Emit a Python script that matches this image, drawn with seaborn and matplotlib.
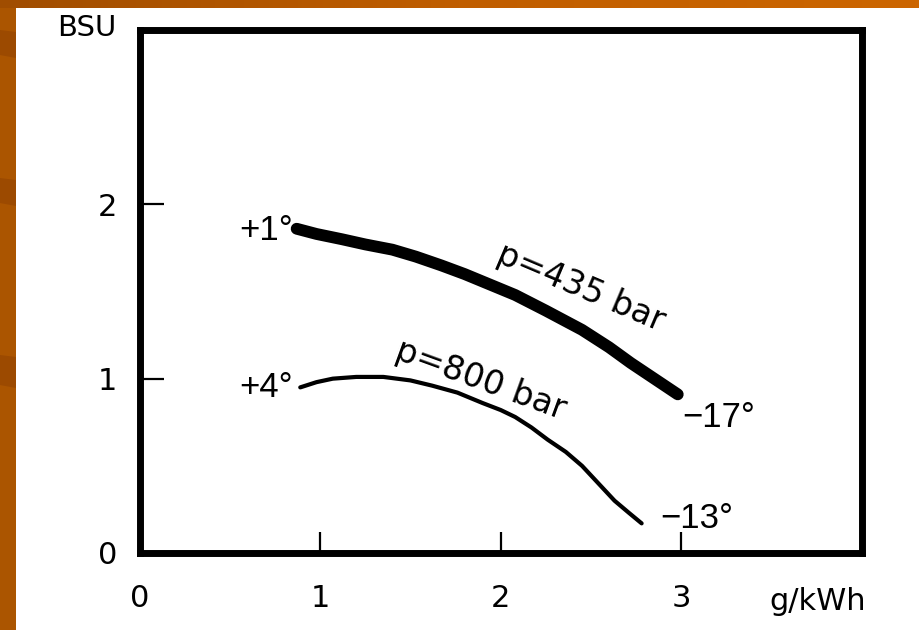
import numpy as np
import pandas as pd
import matplotlib
matplotlib.use("Agg")
import matplotlib.pyplot as plt
from matplotlib.patches import Rectangle, Polygon
from matplotlib.colors import LinearSegmentedColormap
import seaborn as sns

# BSU versus g/kWh for two injection pressures
x_435 = [0.87, 0.98, 1.12, 1.25, 1.40, 1.53, 1.67, 1.80, 1.94, 2.08, 2.25, 2.45, 2.60, 2.72, 2.85, 2.98]
y_435 = [1.86, 1.83, 1.80, 1.77, 1.74, 1.70, 1.65, 1.60, 1.54, 1.48, 1.39, 1.28, 1.18, 1.09, 1.00, 0.91]

x_800 = [0.89, 0.98, 1.07, 1.20, 1.35, 1.50, 1.62, 1.76, 1.90, 2.00, 2.08, 2.17, 2.26, 2.36, 2.45, 2.54, 2.63, 2.71, 2.78]
y_800 = [0.95, 0.98, 1.00, 1.01, 1.01, 0.99, 0.96, 0.92, 0.86, 0.82, 0.78, 0.72, 0.65, 0.58, 0.50, 0.40, 0.30, 0.23, 0.17]

x_ticks = [0, 1, 2, 3]
y_ticks = [0, 1, 2]
x_unit = "g/kWh"
y_unit = "BSU"

curve_labels = ["p=435 bar", "p=800 bar"]
start_labels = ["+1°", "+4°"]
end_labels = ["−17°", "−13°"]

df = pd.concat([
    pd.DataFrame({"x": x_435, "y": y_435, "p": curve_labels[0]}),
    pd.DataFrame({"x": x_800, "y": y_800, "p": curve_labels[1]}),
])

sns.set_theme(style="white")
plt.rcParams["font.family"] = ["DejaVu Sans"]
plt.rcParams["text.color"] = "black"
narrow = ["Liberation Sans", "DejaVu Sans"]

W, H, DPI = 919, 630, 100
fig = plt.figure(figsize=(W / DPI, H / DPI), dpi=DPI, facecolor="white")

# slide frame: gradient strip on top, brown strip on the left
band = fig.add_axes([0, 1 - 8 / H, 1, 8 / H])
grad = np.linspace(0, 1, 256)[None, :]
cmap = LinearSegmentedColormap.from_list("frame", ["#a04d00", "#c05e00", "#cc6600"])
band.imshow(grad, aspect="auto", cmap=cmap, extent=[0, 1, 0, 1])
band.set_axis_off()

fig.patches.append(Rectangle((0, 0), 16 / W, 1 - 8 / H, transform=fig.transFigure,
                             facecolor="#ab5500", edgecolor="none", zorder=0))
# faint darker streaks on the left strip (pixel rows from the top)
for top, bot in [(30, 55), (178, 203), (355, 385)]:
    fig.patches.append(Polygon([(0, 1 - top / H), (16 / W, 1 - (top + 2) / H),
                                (16 / W, 1 - (bot + 3) / H), (0, 1 - bot / H)],
                               closed=True, transform=fig.transFigure,
                               facecolor="#9c4a00", edgecolor="none", zorder=0))

ax = fig.add_axes([139.5 / W, 77 / H, (862 - 139.5) / W, (553 - 30) / H])
ax.set_facecolor("white")

sns.lineplot(data=df, x="x", y="y", hue="p", size="p",
             sizes={curve_labels[0]: 8.5, curve_labels[1]: 3.0},
             palette={curve_labels[0]: "black", curve_labels[1]: "black"},
             sort=False, estimator=None, legend=False, ax=ax)
for line in ax.get_lines():
    line.set_solid_capstyle("round")

ax.set_xlim(0, 4)
ax.set_ylim(0, 3)
ax.set_xticks(x_ticks)
ax.set_yticks(y_ticks)
ax.set_xticklabels([str(v) for v in x_ticks])
ax.set_yticklabels([str(v) for v in y_ticks])

for s in ax.spines.values():
    s.set_visible(True)
    s.set_color("black")
    s.set_linewidth(5)

ax.tick_params(axis="both", direction="in", color="black", width=1.6,
               labelsize=22, labelcolor="black", bottom=True, left=True,
               top=False, right=False)
ax.tick_params(axis="y", length=17, pad=16)
ax.tick_params(axis="x", length=15, pad=22)

ax.set_xlabel(x_unit, fontsize=22, color="black", ha="right", va="center")
ax.xaxis.set_label_coords(1.005, -0.092)
ax.set_ylabel(y_unit, fontsize=21, color="black", rotation=0, ha="center", va="center")
ax.yaxis.set_label_coords(-0.073, 1.004)

fs = 25
ax.text(0.85, 1.85, start_labels[0], fontsize=fs, ha="right", va="center",
        color="black", family=narrow)
ax.text(0.85, 0.95, start_labels[1], fontsize=fs, ha="right", va="center",
        color="black", family=narrow)
ax.text(3.005, 0.775, end_labels[0], fontsize=fs, ha="left", va="center",
        color="black", family=narrow)
ax.text(2.885, 0.20, end_labels[1], fontsize=fs, ha="left", va="center",
        color="black", family=narrow)
ax.text(2.445, 1.52, curve_labels[0], fontsize=24, ha="center", va="center",
        rotation=-23, rotation_mode="anchor", color="black")
ax.text(1.89, 0.99, curve_labels[1], fontsize=24, ha="center", va="center",
        rotation=-20, rotation_mode="anchor", color="black")

fig.savefig("out.png", dpi=DPI, facecolor="white")
